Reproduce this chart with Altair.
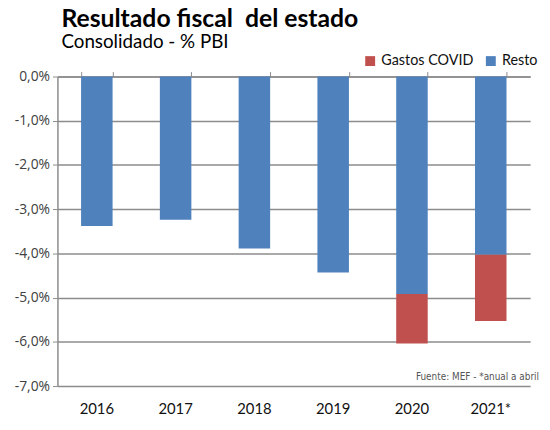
import altair as alt
import pandas as pd

years = ["2016", "2017", "2018", "2019", "2020", "2021*"]
resto = [-3.38, -3.24, -3.89, -4.43, -4.92, -4.03]
covid = [0.0, 0.0, 0.0, 0.0, -1.12, -1.50]
series = ["Gastos COVID", "Resto"]
colors = ["#C0504D", "#4F81BD"]
y_ticks = [0, -1, -2, -3, -4, -5, -6, -7]

rows = []
for yr, r, c in zip(years, resto, covid):
    rows.append({"year": yr, "serie": "Resto", "value": r, "ord": 0})
    if c != 0:
        rows.append({"year": yr, "serie": "Gastos COVID", "value": c, "ord": 1})
df = pd.DataFrame(rows)

label_expr = "(datum.value < 0 ? '-' : '') + replace(format(abs(datum.value), '.1f'), '.', ',') + '%'"

xscale = alt.Scale(paddingInner=0.6, paddingOuter=0.3)
yscale = alt.Scale(domain=[-7, 0], nice=False)

bars = alt.Chart(df).mark_bar().encode(
    x=alt.X("year:N", sort=years, scale=xscale, title=None,
            axis=alt.Axis(orient="top", labels=False, ticks=True, tickBand="extent",
                          tickSize=5, tickColor="#8c8c8c", domainColor="#8c8c8c",
                          domainWidth=1.5, grid=False)),
    y=alt.Y("value:Q", stack="zero", scale=yscale, title=None,
            axis=alt.Axis(values=y_ticks, labelExpr=label_expr, grid=True,
                          gridColor="#8c8c8c", gridWidth=1.5, domainColor="#8c8c8c",
                          domainWidth=1.5, tickColor="#8c8c8c", tickSize=5,
                          labelFont="Open Sans", labelFontSize=14, labelColor="#404040",
                          labelPadding=3)),
    color=alt.Color("serie:N", scale=alt.Scale(domain=series, range=colors), title=None,
                    legend=alt.Legend(orient="none", legendX=309, legendY=-23,
                                      direction="horizontal", symbolType="square",
                                      symbolSize=100, symbolStrokeWidth=0,
                                      labelFont="Lato", labelFontSize=14.5,
                                      labelColor="#111", columnPadding=10, labelOffset=4)),
    order=alt.Order("ord:Q"),
)

bottom = alt.Chart(df).mark_bar(opacity=0).encode(
    x=alt.X("year:N", sort=years, scale=xscale, title=None,
            axis=alt.Axis(orient="bottom", domain=False, ticks=False, grid=False,
                          labelAngle=0, labelFont="Lato", labelFontSize=15,
                          labelColor="#111", labelPadding=16)),
    y=alt.Y("value:Q", stack="zero", scale=yscale),
)

source = alt.Chart(pd.DataFrame({"t": ["Fuente: MEF - *anual a abril"]})).mark_text(
    align="right", baseline="alphabetic", font="DejaVu Sans Condensed", fontSize=10,
    color="#555"
).encode(text="t:N", x=alt.value(487), y=alt.value(307))

chart = alt.layer(bars, bottom, source).resolve_axis(x="independent").properties(
    width=478, height=313,
    autosize=alt.AutoSizeParams(type="none"),
    padding={"left": 50, "top": 67, "right": 12, "bottom": 30},
    title=alt.Title("Resultado fiscal\u00a0 del estado", subtitle="Consolidado - % PBI",
                    anchor="start", frame="group", dx=4, font="Lato", fontSize=25,
                    fontWeight="bold", color="#000", subtitleFont="Lato",
                    subtitleFontSize=19, subtitleColor="#000", offset=2, subtitlePadding=1),
).configure_view(stroke=None)

chart.save("out.html", embed_options={"renderer": "svg", "actions": False})
